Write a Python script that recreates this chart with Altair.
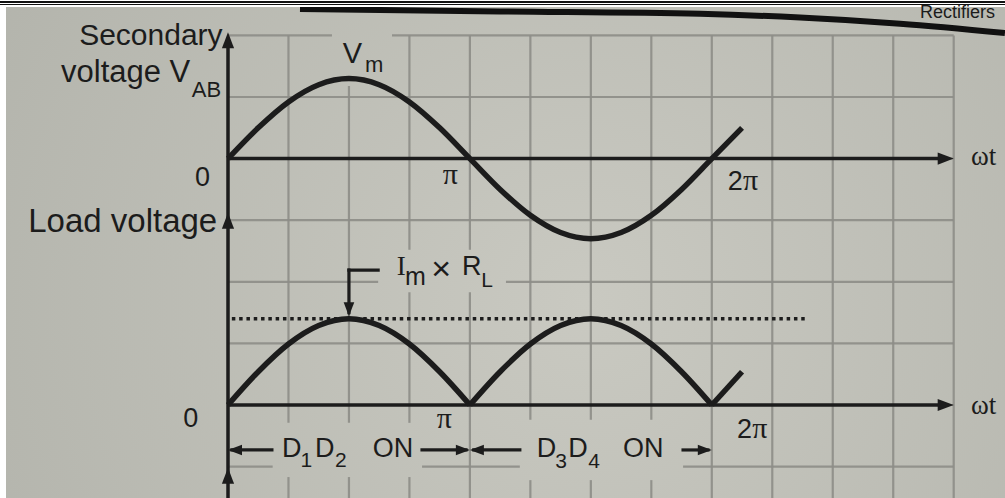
import math

import altair as alt
import pandas as pd

PI = math.pi

# ---------------------------------------------------------------------------
# Waveform samples, one every pi/8 of wt
# ---------------------------------------------------------------------------
step_eighths = list(range(18))
secondary_voltage = [0.00, 0.50, 0.92, 1.20, 1.30, 1.20, 0.92, 0.50, 0.00,
                     -0.50, -0.92, -1.20, -1.30, -1.20, -0.92, -0.50, 0.00, 0.50]
load_voltage = [0.00, 0.54, 0.99, 1.29, 1.40, 1.29, 0.99, 0.54, 0.00,
                0.54, 0.99, 1.29, 1.40, 1.29, 0.99, 0.54, 0.00, 0.54]
# conduction intervals of the bridge, in eighths of pi
load_segments = [(0, 8), (8, 16), (16, 17)]

# ---------------------------------------------------------------------------
# Drawing frame (x in radians of wt, y in grid rows)
# ---------------------------------------------------------------------------
X_MIN, X_MAX = -2.961, 10.091
Y_MIN, Y_MAX = -1.510, 6.575
TOP_BASE = 4.0       # row carrying the secondary-voltage axis
BOTTOM_BASE = 0.0    # row carrying the load-voltage axis
AXIS_END = 3 * PI
GRID_TOP = 6.0
grid_cols = list(range(1, 13))            # multiples of pi/4
grid_rows = [-1, 0, 1, 2, 3, 4, 5, 6]

# the printed grid is interrupted where the labels sit
row_gaps = {6: [(1.35, 2.13)], 2: [(1.95, 3.61)],
            -1: [(0.58, 2.52), (3.79, 5.91)]}
col_gaps = {1: [(-1.17, -0.29)], 2: [(-1.17, -0.29), (5.18, 6.0)],
            3: [(-1.17, -0.29), (1.83, 2.52)], 4: [(1.83, 2.52)],
            5: [(-1.22, -0.24)], 6: [(-1.22, -0.24)], 7: [(-1.22, -0.24)]}

INK = "#1c1c1c"
GRID = "#8d8d87"
SANS = "Liberation Sans"
SERIF = "Liberation Serif"

xs = alt.Scale(domain=[X_MIN, X_MAX], nice=False, zero=False)
ys = alt.Scale(domain=[Y_MIN, Y_MAX], nice=False, zero=False)


def X(f="x"):
    return alt.X(f"{f}:Q", scale=xs, axis=None)


def Y(f="y"):
    return alt.Y(f"{f}:Q", scale=ys, axis=None)


def split(lo, hi, gaps):
    out, cur = [], lo
    for a, b in sorted(gaps):
        if a > cur:
            out.append((cur, a))
        cur = max(cur, b)
    if cur < hi:
        out.append((cur, hi))
    return out


# ---------------------------------------------------------------------------
# Tables
# ---------------------------------------------------------------------------
grid = []
for r in grid_rows:
    for a, b in split(0.0, AXIS_END, row_gaps.get(r, [])):
        grid.append(dict(x=a, x2=b, y=r, y2=r))
for k in grid_cols:
    for a, b in split(Y_MIN, GRID_TOP, col_gaps.get(k, [])):
        grid.append(dict(x=k * PI / 4, x2=k * PI / 4, y=a, y2=b))
grid_df = pd.DataFrame(grid)

sec_df = pd.DataFrame({"x": [k * PI / 8 for k in step_eighths],
                       "y": [v + TOP_BASE for v in secondary_voltage]})

load_rows = []
for seg, (a, b) in enumerate(load_segments):
    for k in range(a, b + 1):
        load_rows.append(dict(x=k * PI / 8, y=load_voltage[k] + BOTTOM_BASE, seg=seg))
load_df = pd.DataFrame(load_rows)

peak_level = max(load_voltage) + BOTTOM_BASE
level_df = pd.DataFrame([dict(x=0.05, x2=7.49, y=peak_level)])

axes_df = pd.DataFrame([
    dict(x=0.0, x2=0.0, y=Y_MIN, y2=5.95),
    dict(x=0.0, x2=AXIS_END - 0.1, y=TOP_BASE, y2=TOP_BASE),
    dict(x=0.0, x2=AXIS_END - 0.1, y=BOTTOM_BASE, y2=BOTTOM_BASE),
])

lead_df = pd.DataFrame([
    dict(x=PI / 2, x2=1.95, y=2.19, y2=2.19),
    dict(x=PI / 2, x2=PI / 2, y=1.50, y2=2.19),
    dict(x=0.05, x2=0.57, y=-0.73, y2=-0.73),
    dict(x=2.52, x2=PI - 0.05, y=-0.73, y2=-0.73),
    dict(x=PI + 0.05, x2=3.79, y=-0.73, y2=-0.73),
    dict(x=5.91, x2=2 * PI - 0.05, y=-0.73, y2=-0.73),
])

RIGHT = "M0,0L-1,-0.38L-1,0.38Z"
LEFT = "M0,0L1,-0.38L1,0.38Z"
UP = "M0,0L-0.38,1L0.38,1Z"
DOWN = "M0,0L-0.38,-1L0.38,-1Z"
heads_df = pd.DataFrame([
    dict(x=0.0, y=6.05, shape=UP, size=1024),
    dict(x=0.0, y=3.12, shape=UP, size=1024),
    dict(x=0.0, y=-1.02, shape=UP, size=1024),
    dict(x=AXIS_END, y=TOP_BASE, shape=RIGHT, size=1024),
    dict(x=AXIS_END, y=BOTTOM_BASE, shape=RIGHT, size=1024),
    dict(x=PI / 2, y=peak_level + 0.04, shape=DOWN, size=784),
    dict(x=0.0, y=-0.73, shape=LEFT, size=784),
    dict(x=PI, y=-0.73, shape=RIGHT, size=784),
    dict(x=PI, y=-0.73, shape=LEFT, size=784),
    dict(x=2 * PI, y=-0.73, shape=RIGHT, size=784),
])

rule_df = pd.DataFrame({"x": [0.935, 3.532, 6.13, 7.43, 8.73, 10.09],
                        "y": [6.43, 6.39, 6.35, 6.29, 6.19, 6.04]})

sans_right = pd.DataFrame([
    dict(text="Secondary", x=-0.07, y=5.85, size=30),
    dict(text="voltage V", x=-0.49, y=5.24, size=31),
    dict(text="Load voltage", x=-0.14, y=2.81, size=33),
])
running_head = pd.DataFrame([dict(text="Rectifiers", x=9.96, y=6.28, size=18)])
sans_left = pd.DataFrame([
    dict(text="AB", x=-0.47, y=5.00, size=22),
    dict(text="0", x=-0.43, y=3.55, size=27),
    dict(text="0", x=-0.58, y=-0.36, size=27),
    dict(text="2", x=6.49, y=3.49, size=27),
    dict(text="2", x=6.61, y=-0.54, size=27),
    dict(text="V", x=1.49, y=5.55, size=29),
    dict(text="m", x=1.78, y=5.41, size=22),
    dict(text="m", x=2.30, y=1.95, size=25),
    dict(text="\u00d7", x=2.64, y=2.03, size=34),
    dict(text="R", x=3.04, y=2.11, size=27),
    dict(text="L", x=3.29, y=1.92, size=21),
    dict(text="D", x=0.70, y=-0.84, size=27),
    dict(text="1", x=0.94, y=-1.00, size=21),
    dict(text="D", x=1.13, y=-0.84, size=27),
    dict(text="2", x=1.39, y=-1.00, size=21),
    dict(text="ON", x=1.88, y=-0.84, size=27),
    dict(text="D", x=4.01, y=-0.84, size=27),
    dict(text="3", x=4.25, y=-1.02, size=21),
    dict(text="D", x=4.42, y=-0.84, size=27),
    dict(text="4", x=4.68, y=-1.02, size=21),
    dict(text="ON", x=5.13, y=-0.84, size=27),
])
serif_left = pd.DataFrame([
    dict(text="\u03c0", x=2.79, y=3.59, size=30),
    dict(text="\u03c0", x=6.69, y=3.49, size=30),
    dict(text="\u03c9t", x=9.65, y=3.89, size=27),
    dict(text="\u03c0", x=2.71, y=-0.37, size=30),
    dict(text="\u03c0", x=6.81, y=-0.54, size=30),
    dict(text="\u03c9t", x=9.65, y=-0.15, size=27),
    dict(text="I", x=2.19, y=2.11, size=27),
])

# ---------------------------------------------------------------------------
# Layers
# ---------------------------------------------------------------------------
one = pd.DataFrame({"k": [0]})
paper_fill = {
    "gradient": "radial",
    "stops": [{"offset": 0, "color": "#c9c9c1"}, {"offset": 1, "color": "#afb0a8"}],
    "x1": 0.58, "y1": 0.55, "r1": 0.0,
    "x2": 0.58, "y2": 0.55, "r2": 0.8,
}
paper = alt.Chart(one).mark_rect(fill=paper_fill).encode(
    x=alt.value(6), x2=alt.value(1005), y=alt.value(7), y2=alt.value(498))

grid_layer = alt.Chart(grid_df).mark_rule(color=GRID, strokeWidth=2.2, opacity=0.9).encode(
    x=X(), x2="x2:Q", y=Y(), y2="y2:Q")

level_layer = alt.Chart(level_df).mark_rule(
    color=INK, strokeWidth=3.5, strokeDash=[3.5, 3.8]).encode(x=X(), x2="x2:Q", y=Y())

sec_layer = alt.Chart(sec_df).mark_line(
    interpolate="monotone", color=INK, strokeWidth=5.5, strokeCap="butt").encode(x=X(), y=Y())

load_layer = alt.Chart(load_df).mark_line(
    interpolate="monotone", color=INK, strokeWidth=5.5, strokeCap="butt", strokeJoin="miter").encode(
    x=X(), y=Y(), detail="seg:N")

axes_layer = alt.Chart(axes_df).mark_rule(color=INK, strokeWidth=3.5).encode(
    x=X(), x2="x2:Q", y=Y(), y2="y2:Q")

lead_layer = alt.Chart(lead_df).mark_rule(color=INK, strokeWidth=3.2, strokeCap="square").encode(
    x=X(), x2="x2:Q", y=Y(), y2="y2:Q")

heads_layer = alt.Chart(heads_df).mark_point(filled=True, color=INK, opacity=1, strokeWidth=0).encode(
    x=X(), y=Y(), shape=alt.Shape("shape:N", scale=None), size=alt.Size("size:Q", scale=None))


def text_layer(df, font, align):
    return alt.Chart(df).mark_text(font=font, align=align, baseline="alphabetic", color=INK).encode(
        x=X(), y=Y(), text="text:N", size=alt.Size("size:Q", scale=None))


page_rule = alt.Chart(rule_df).mark_line(
    interpolate="monotone", color="#111111", strokeWidth=6).encode(x=X(), y=Y())

top_band = alt.Chart(one).mark_rect(fill="white").encode(
    x=alt.value(0), x2=alt.value(1005), y=alt.value(0), y2=alt.value(7))
band_line1 = alt.Chart(one).mark_rule(color="#111111", strokeWidth=2).encode(
    x=alt.value(0), x2=alt.value(1005), y=alt.value(2))
band_line2 = alt.Chart(one).mark_rule(color="#111111", strokeWidth=1).encode(
    x=alt.value(0), x2=alt.value(1005), y=alt.value(4.5))

chart = alt.layer(
    paper, grid_layer, level_layer, sec_layer, load_layer, axes_layer, lead_layer,
    heads_layer,
    text_layer(sans_right, SANS, "right"),
    text_layer(sans_left, SANS, "left"),
    text_layer(serif_left, SERIF, "left"),
    page_rule, top_band, band_line1, band_line2,
    text_layer(running_head, SANS, "right"),
).properties(
    width=1005, height=498, padding=0, autosize="none", background="white",
).configure_view(strokeWidth=0)

chart.save("out.html", embed_options={"renderer": "svg", "actions": False})
